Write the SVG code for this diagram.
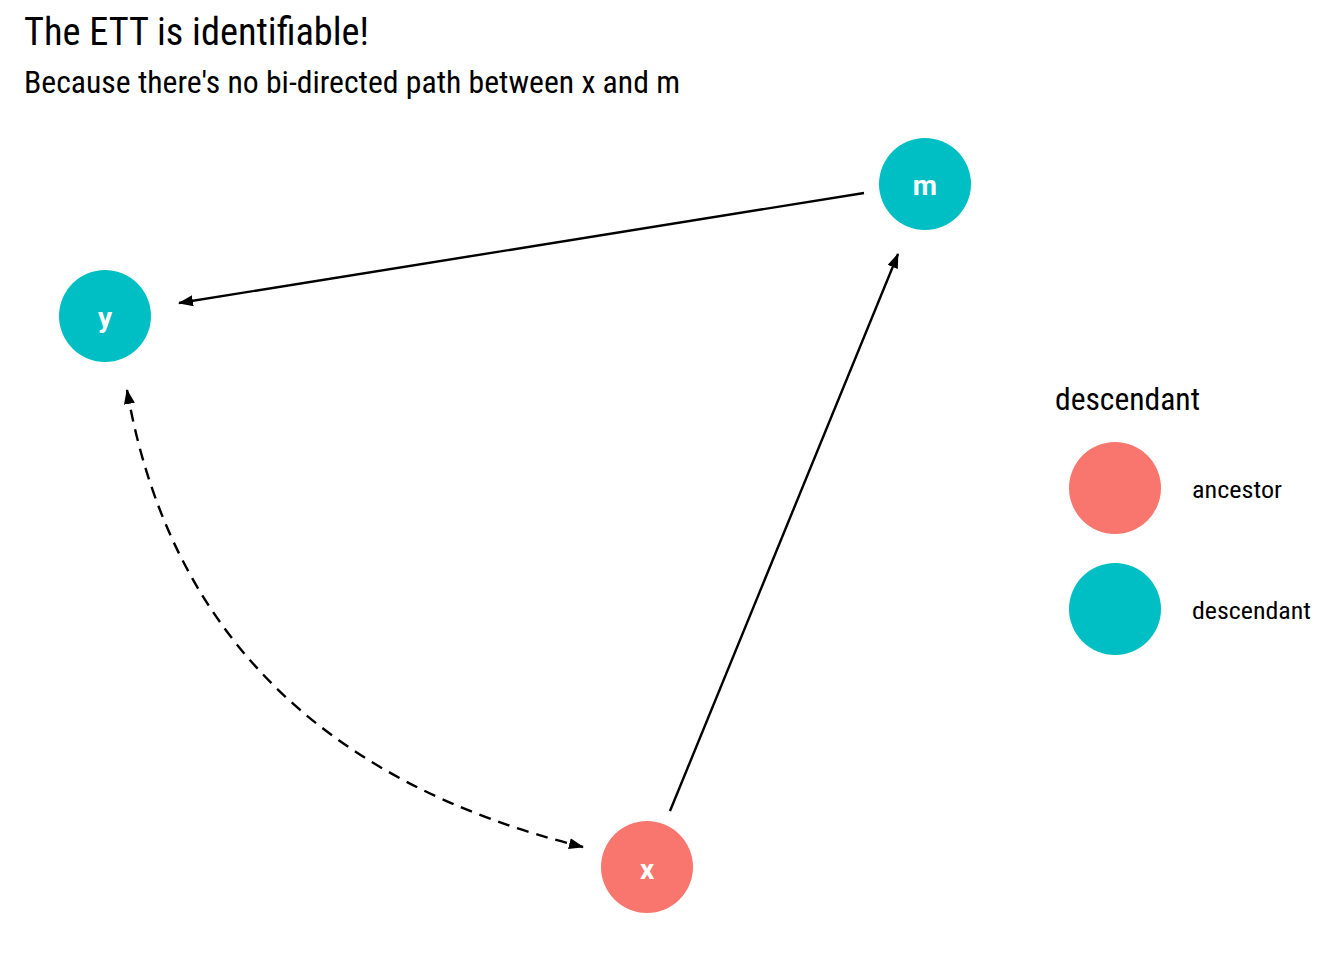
<svg xmlns="http://www.w3.org/2000/svg" width="1344" height="960" viewBox="0 0 1344 960">
<style>
.t{font-family:"Roboto Condensed","Liberation Sans Narrow",Roboto,"Liberation Sans",sans-serif;fill:#000}
.nl{font-family:Roboto,"Liberation Sans",sans-serif;font-weight:bold;fill:#fff;font-size:28px;text-anchor:middle}
.e{fill:none;stroke:#000;stroke-width:2.4}
.anc{fill:#F8766D}
.des{fill:#00BFC4}
</style>
<defs>
<marker id="ah" viewBox="0 0 15 11" refX="14" refY="5.5" markerWidth="15" markerHeight="11" markerUnits="userSpaceOnUse" orient="auto-start-reverse">
<path d="M0,0 L15,5.5 L0,11 Z" fill="#000"/>
</marker>
</defs>
<rect width="1344" height="960" fill="#fff"/>
<text class="t" x="24" y="45" font-size="38" textLength="345" lengthAdjust="spacingAndGlyphs">The ETT is identifiable!</text>
<text class="t" x="24" y="93" font-size="31" textLength="656" lengthAdjust="spacingAndGlyphs">Because there's no bi-directed path between x and m</text>
<g id="connectors">
<path class="e" d="M864,193 L179,303" marker-end="url(#ah)"/>
<path class="e" d="M670,811 L898,254" marker-end="url(#ah)"/>
<path class="e" d="M127,390 Q190,750 583,847" stroke-dasharray="12,8" marker-start="url(#ah)" marker-end="url(#ah)"/>
</g>
<g id="node-y"><circle class="des" cx="105" cy="316" r="46"/><text class="nl" x="105" y="327">y</text></g>
<g id="node-m"><circle class="des" cx="925" cy="184" r="46"/><text class="nl" x="925" y="195">m</text></g>
<g id="node-x"><circle class="anc" cx="647" cy="867" r="46"/><text class="nl" x="647" y="879">x</text></g>
<g id="legend">
<text class="t" x="1055" y="410" font-size="31" textLength="145" lengthAdjust="spacingAndGlyphs">descendant</text>
<circle class="anc" cx="1115" cy="488" r="46"/>
<text class="t" x="1192" y="498" font-size="24" textLength="90" lengthAdjust="spacingAndGlyphs">ancestor</text>
<circle class="des" cx="1115" cy="609" r="46"/>
<text class="t" x="1192" y="619" font-size="24" textLength="119" lengthAdjust="spacingAndGlyphs">descendant</text>
</g>
</svg>
